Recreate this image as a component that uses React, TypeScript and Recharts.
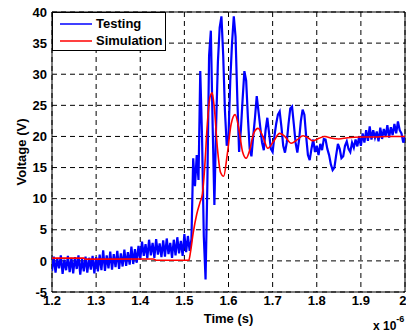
import { CartesianGrid, Label, Legend, Line, LineChart, ReferenceArea, XAxis, YAxis } from "recharts"

const FONT = "'Liberation Sans', Arial, Helvetica, sans-serif"

// sampled measurement, one value every 0.004 us starting at 1.2 us
const testingStart = 1.2
const testingStep = 0.004
const testingVolts = [
  // 1.200 - 1.296
  -1.6, 0.7, -1.9, 0.4, -1.2, 0.9, -2.1, 0.2, -1.5, 0.8, -1.8, 0.5, -2.0, 0.6, -1.3, 0.9, -2.2, 0.3, -1.7, 0.7,
  -1.9, 0.5, -1.4, 0.8, -2.0,
  // 1.300 - 1.396
  0.6, -1.7, 1.0, -1.5, 1.7, -1.6, 0.9, -1.2, 1.5, -1.4, 1.1, -1.0, 1.6, -1.3, 1.2, -0.9, 1.8, -0.8, 1.4, -0.6,
  2.3, -0.5, 1.9, -0.3, 2.4,
  // 1.400 - 1.512
  0.2, 3.1, 0.8, 2.7, 0.4, 3.4, 0.9, 2.9, 0.5, 3.5, 1.0, 2.8, 0.6, 3.3, 0.7, 3.6, 1.1, 2.9, 0.5, 3.4,
  0.9, 3.8, 1.2, 3.2, 0.8, 4.3, 1.4, 4.0, 1.6,
  // 1.516 - 1.600
  3.5, 16.5, 12, 17, 13, 30.5, 20, 4, -3, 12, 33, 37, 22, 9, 22, 32, 37.5, 39.3, 33, 24, 18.5, 20,
  // 1.604 - 1.700
  29, 35, 39.3, 36, 26, 17.5, 21, 26, 30.5, 29, 23, 18, 16.8, 20, 23, 26.5, 24, 21.5, 19, 17.8,
  21, 23, 20.5, 18, 17.5,
  // 1.704 - 1.800
  20, 22, 23.5, 24, 21.5, 18.5, 17.4, 19, 22, 24.5, 24.8, 22, 19, 17.4, 19.5, 22.5, 24.3, 23.5, 20, 17,
  16.2, 18, 19.5, 17.5, 18.5,
  // 1.804 - 1.900
  17, 18.8, 17.8, 19.6, 19.5, 18, 17, 15.5, 14.6, 15, 17, 18.8, 18, 16.5, 16.8, 18.5, 19.2, 18, 17.5, 19,
  18.2, 19.5, 18.4, 20, 18.5,
  // 1.904 - 2.000
  20.5, 19, 21, 19.3, 21.6, 19.5, 21, 19.8, 20.8, 19.2, 21.4, 19.6, 21.2, 20, 21.8, 19.8, 21.5, 20.2, 22, 20.5,
  22.4, 21, 20.5, 19, 20,
]

const simTime = [
  1.2, 1.272, 1.276, 1.43, 1.436, 1.51, 1.514, 1.52, 1.528, 1.535, 1.541, 1.546, 1.552, 1.558, 1.563, 1.568,
  1.575, 1.582, 1.589, 1.597, 1.606, 1.615, 1.624, 1.632, 1.64, 1.648, 1.657, 1.667, 1.678, 1.689, 1.702,
  1.716, 1.729, 1.742, 1.756, 1.769, 1.78, 1.791, 1.805, 1.818, 1.835, 1.85, 1.87, 1.9, 1.93, 1.96, 2.0,
]
const simVolts = [
  0.45, 0.45, 0.28, 0.3, 0.1, 0.1, 1.5, 4.5, 7.5, 9.3, 10.8, 15, 22, 26.3, 27, 24.5,
  18, 14.2, 13.6, 17, 22, 23.5, 21, 17.5, 16.5, 17.8, 20.5, 21.3, 20, 18.1, 19.2,
  20.5, 19.9, 18.9, 19.5, 20.1, 19.8, 19.3, 19.7, 20, 19.7, 19.6, 19.8, 19.9, 19.9, 20, 20,
]

const xTicks = [1.2, 1.3, 1.4, 1.5, 1.6, 1.7, 1.8, 1.9, 2.0]
const yTicks = [-5, 0, 5, 10, 15, 20, 25, 30, 35, 40]

const testing = testingVolts.map((v, i) => ({ t: +(testingStart + i * testingStep).toFixed(3), v }))
const simulation = simTime.map((t, i) => ({ t, v: simVolts[i] }))

const tickStyle = { fontFamily: FONT, fontWeight: "bold" as const, fontSize: 13, fill: "#000" }

function LegendBox() {
  const row = (color: string, text: string) => (
    <div style={{ display: "flex", alignItems: "center", height: 17 }}>
      <svg width={40} height={17} style={{ display: "block" }}>
        <line x1={7} x2={39} y1={9} y2={9} stroke={color} strokeWidth={1.5} />
      </svg>
      <span style={{ marginLeft: 3 }}>{text}</span>
    </div>
  )
  return (
    <div
      style={{
        position: "absolute",
        left: 52,
        top: 12,
        width: 114,
        height: 39,
        boxSizing: "border-box",
        border: "1px solid #000",
        background: "#fff",
        fontFamily: FONT,
        fontWeight: "bold",
        fontSize: 13,
        paddingTop: 2,
        color: "#000",
        textAlign: "left",
      }}
    >
      {row("#0000ff", "Testing")}
      {row("#ff0000", "Simulation")}
    </div>
  )
}

export default function App() {
  return (
    <div style={{ position: "absolute", left: 0, top: 0, background: "#fff" }}>
      <LineChart width={406} height={332} margin={{ top: 12, right: 1, bottom: 0, left: 0 }}>
        <CartesianGrid stroke="#000" strokeDasharray="5 4" strokeWidth={1} />
        <XAxis
          dataKey="t"
          type="number"
          domain={[1.2, 2]}
          ticks={xTicks}
          allowDataOverflow
          tickFormatter={(v: number) => (v === 2 ? "2" : v.toFixed(1))}
          tick={tickStyle}
          tickLine={false}
          axisLine={false}
          tickSize={0}
          tickMargin={4}
          height={40}
        >
          <Label value="Time (s)" position="insideBottom" offset={9} style={tickStyle} />
          <Label
            content={() => (
              <text x={373} y={330} fontFamily={FONT} fontWeight="bold" fontSize={12} fill="#000">
                x 10
                <tspan dy={-8} fontSize={9}>
                  -6
                </tspan>
              </text>
            )}
          />
        </XAxis>
        <YAxis
          type="number"
          domain={[-5, 40]}
          ticks={yTicks}
          allowDataOverflow
          tick={tickStyle}
          tickLine={false}
          axisLine={false}
          tickSize={0}
          tickMargin={5}
          width={52}
        >
          <Label
            value="Voltage (V)"
            angle={-90}
            position="insideLeft"
            offset={21}
            style={{ ...tickStyle, textAnchor: "middle" }}
          />
        </YAxis>
        <ReferenceArea x1={1.2} x2={2} y1={-5} y2={40} fill="none" stroke="#000" strokeWidth={1} />
        <Line
          data={testing}
          dataKey="v"
          type="linear"
          stroke="#0000ff"
          strokeWidth={2.2}
          dot={false}
          isAnimationActive={false}
        />
        <Line
          data={simulation}
          dataKey="v"
          type="monotone"
          stroke="#ff0000"
          strokeWidth={1.6}
          dot={false}
          isAnimationActive={false}
        />
        <Legend
          content={() => <LegendBox />}
          wrapperStyle={{ position: "absolute", left: 0, top: 0, width: 0, height: 0 }}
        />
      </LineChart>
    </div>
  )
}
